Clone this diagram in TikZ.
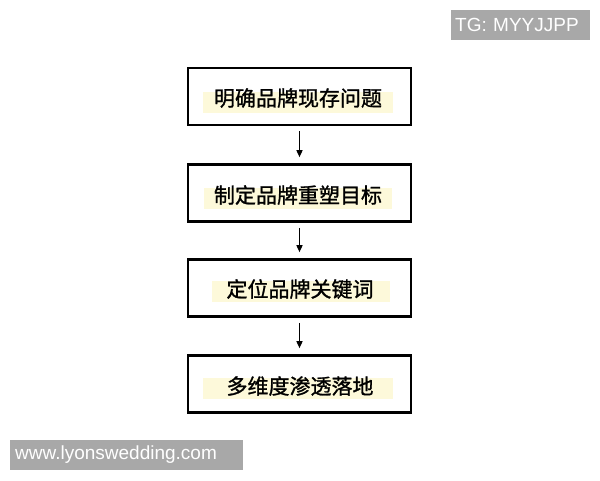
\documentclass[tikz,border=0pt]{standalone}
\usepackage{fontspec}
\newfontfamily\cjk{Noto Sans CJK SC}[FakeBold=1.2]
\setmainfont{Liberation Sans}
\usetikzlibrary{arrows.meta}
\definecolor{hl}{RGB}{253,249,218}
\definecolor{wm}{RGB}{168,168,168}
\tikzset{
  x=1pt,y=-1pt,
  stepbox/.style={draw=black,line width=2.6pt,minimum width=223pt,minimum height=57pt,inner sep=0pt},
  hlband/.style={fill=hl,draw=none,minimum height=21pt,inner sep=0pt},
  steptext/.style={font=\cjk\fontsize{21}{24}\selectfont,inner sep=0pt},
  flow/.style={line width=1.4pt,-{Triangle[length=7pt,width=6pt]}},
  wmbox/.style={fill=wm,draw=none,inner sep=0pt,text=white,font=\fontsize{19}{21}\selectfont,anchor=west},
}
\begin{document}
\begin{tikzpicture}
\useasboundingbox (0,0) rectangle (600,480);
\fill[white] (0,0) rectangle (600,480);
% highlight bands
\node[hlband,minimum width=190pt] (h1) at (298,102) {};
\node[hlband,minimum width=188pt] (h2) at (298,198) {};
\node[hlband,minimum width=178pt] (h3) at (301,291) {};
\node[hlband,minimum width=190pt] (h4) at (298,388) {};
% boxes
\node[stepbox] (b1) at (299.5,96.5) {};
\node[stepbox] (b2) at (299.5,193) {};
\node[stepbox] (b3) at (299.5,288) {};
\node[stepbox] (b4) at (299.5,384) {};
% texts
\node[steptext] (t1) at (298,98) {明确品牌现存问题};
\node[steptext] (t2) at (298,195) {制定品牌重塑目标};
\node[steptext] (t3) at (300,289) {定位品牌关键词};
\node[steptext] (t4) at (300,386) {多维度渗透落地};
% arrows
\draw[flow] ([yshift=-5pt]b1.south) -- ([yshift=6pt]b2.north);
\draw[flow] ([yshift=-5pt]b2.south) -- ([yshift=6pt]b3.north);
\draw[flow] ([yshift=-5pt]b3.south) -- ([yshift=6pt]b4.north);
% watermarks
\node[wmbox,minimum height=30pt,text width=131pt,align=left,inner xsep=4pt] (w1) at (451,25) {TG: MYYJJPP};
\node[wmbox,minimum height=30pt,text width=223pt,align=left,inner xsep=5pt] (w2) at (10,455) {www.lyonswedding.com};
\end{tikzpicture}
\end{document}
